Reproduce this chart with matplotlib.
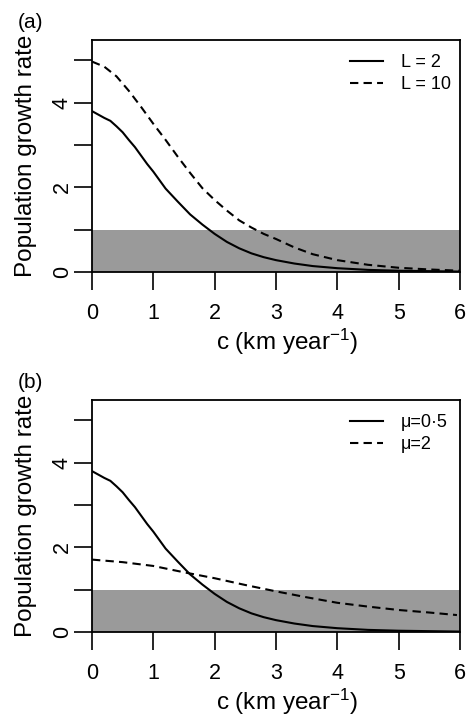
import matplotlib
matplotlib.use('Agg')
import matplotlib.pyplot as plt

plt.rcParams['font.family'] = ['Liberation Sans', 'DejaVu Sans']
plt.rcParams['mathtext.default'] = 'regular'

# 曲線資料
c_solid = [0, 0.1, 0.2, 0.3, 0.4, 0.5, 0.6, 0.7, 0.8, 0.9, 1.0, 1.2, 1.4, 1.6, 1.8, 2.0,
           2.2, 2.4, 2.6, 2.8, 3.0, 3.3, 3.6, 4.0, 4.5, 5.0, 5.5, 6.0]
rate_mu05 = [3.80, 3.72, 3.64, 3.57, 3.44, 3.30, 3.12, 2.95, 2.75, 2.55, 2.37, 1.97, 1.66,
             1.36, 1.12, 0.90, 0.71, 0.56, 0.44, 0.35, 0.28, 0.20, 0.14, 0.09, 0.05, 0.03,
             0.02, 0.01]

c_L10 = [0, 0.2, 0.4, 0.6, 0.8, 1.0, 1.2, 1.4, 1.6, 1.8, 2.0, 2.2, 2.4, 2.6, 2.8, 3.0,
         3.3, 3.6, 4.0, 4.5, 5.0, 5.5, 6.0]
rate_L10 = [4.97, 4.85, 4.62, 4.28, 3.90, 3.50, 3.12, 2.72, 2.34, 1.98, 1.70, 1.45, 1.22,
            1.05, 0.90, 0.78, 0.58, 0.42, 0.28, 0.17, 0.10, 0.06, 0.03]

c_mu2 = [0, 0.5, 1.0, 1.5, 2.0, 2.5, 3.0, 3.5, 4.0, 4.5, 5.0, 5.5, 5.95]
rate_mu2 = [1.71, 1.65, 1.56, 1.41, 1.27, 1.11, 0.96, 0.82, 0.69, 0.60, 0.52, 0.46, 0.40]

xticks = [0, 1, 2, 3, 4, 5, 6]
yticks = [0, 1, 2, 3, 4, 5]
ytick_labels = ['0', '', '2', '', '4', '']

panels = [
    ('(a)', rate_mu05, c_L10, rate_L10, ['L = 2', 'L = 10']),
    ('(b)', rate_mu05, c_mu2, rate_mu2, ['\u03bc=0\u00b75', '\u03bc=2']),
]

W, H = 470, 717
fig = plt.figure(figsize=(W / 100, H / 100), dpi=100)

ax_rects = [
    [92 / W, 1 - 272 / H, 368 / W, 232 / H],
    [92 / W, 1 - 632 / H, 368 / W, 232 / H],
]

for rect, (tag, ysolid, xdash, ydash, labels) in zip(ax_rects, panels):
    ax = fig.add_axes(rect)
    ax.axhspan(0, 1, color='#9a9a9a', lw=0, zorder=0)
    ax.plot(c_solid, ysolid, color='black', lw=1.5, label=labels[0])
    ax.plot(xdash, ydash, color='black', lw=1.5, dashes=(4.0, 2.5), label=labels[1])
    ax.set_xlim(0, 6)
    ax.set_ylim(0, 5.48)
    ax.tick_params(axis='both', direction='out', length=13, width=1.2, labelsize=15.5)
    ax.tick_params(axis='x', pad=9)
    ax.tick_params(axis='y', pad=4.5)
    ax.set_xticks(xticks)
    ax.set_yticks(yticks)
    ax.set_yticklabels(ytick_labels, rotation=90, rotation_mode='anchor',
                       ha='center', va='baseline')
    for s in ax.spines.values():
        s.set_linewidth(1.3)
    ax.set_ylabel('Population growth rate', fontsize=17.5, va='center')
    ax.yaxis.set_label_coords(-0.18, 0.5)
    ax.set_xlabel(r'c (km year$^{-1}$)', fontsize=17.5, va='center')
    ax.xaxis.set_label_coords(0.53, -0.30)
    ax.legend(loc='upper left', bbox_to_anchor=(0.701, 0.94), frameon=False,
              fontsize=13, handlelength=1.85, handletextpad=0.95, labelspacing=0.3,
              borderpad=0, borderaxespad=0)
    ax.text(-0.168, 1.0 + 17 / 232, tag, transform=ax.transAxes, fontsize=15,
            ha='center', va='center')

fig.savefig('out.png', dpi=100)
